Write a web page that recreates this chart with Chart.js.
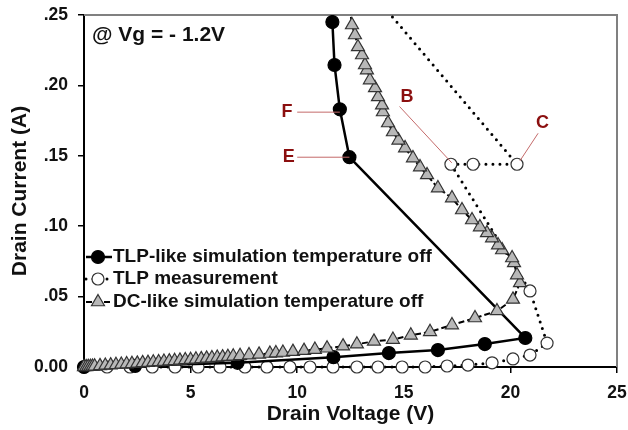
<!DOCTYPE html>
<html>
<head>
<meta charset="utf-8">
<script src="https://cdn.jsdelivr.net/npm/chart.js"></script>
<style>
  html, body { margin: 0; padding: 0; background: #fff; }
</style>
</head>
<body>
<canvas id="chart1" width="628" height="430"></canvas>
<script>
// TLP-like simulation, temperature off (black dots, solid line)
const tlpSimV = [0, 2.4, 7.2, 11.7, 14.3, 16.6, 18.8, 20.7, 12.45, 12.0, 11.75, 11.65];
const tlpSimI = [0, 0.0008, 0.003, 0.007, 0.0099, 0.012, 0.0163, 0.0206, 0.149, 0.183, 0.2145, 0.245];

// TLP measurement (open circles, dotted line)
const tlpMeasV = [0, 1.08, 2.16, 3.2, 4.27, 5.35, 6.38, 7.55, 8.58, 9.66, 10.6, 11.68, 12.8, 13.79,
  14.92, 16.0, 17.03, 18.01, 19.14, 20.12, 20.92, 21.72, 20.92, 17.21, 18.25, 20.31, 11.6];
const tlpMeasI = [0, 0, 0, 0, 0, 0, 0, 0, 0, 0, 0, 0, 0, 0,
  0, 0, 0.0007, 0.0014, 0.003, 0.0057, 0.0085, 0.017, 0.054, 0.144, 0.144, 0.144, 0.30];

// DC-like simulation, temperature off (grey triangles, dashed line)
const dcSimV = [0, 0.1, 0.2, 0.3, 0.4, 0.5, 0.75, 1.0, 1.25, 1.5, 1.75, 2.0, 2.25, 2.5, 2.75, 3.0,
  3.25, 3.5, 3.75, 4.0, 4.25, 4.5, 4.75, 5.0, 5.25, 5.5, 5.75, 6.0, 6.25, 6.5, 6.75, 7.0,
  7.32, 7.74, 8.21, 8.72, 9.0, 9.33, 9.8, 10.32, 10.83, 11.4, 12.15, 12.8, 13.6, 14.49, 15.33,
  16.23, 17.26, 18.34, 19.37, 20.12,
  20.45, 20.31, 20.17, 20.08, 19.61, 19.42, 19.14, 18.9, 18.57, 18.2, 17.73, 17.26, 16.6, 16.09,
  15.76, 15.43, 15.06, 14.75, 14.49, 14.26, 14.02, 13.98, 13.79, 13.65, 13.41, 13.27, 13.18,
  13.04, 12.85, 12.71, 12.57, 12.4];
const dcSimI = [0, 0.0001, 0.0002, 0.0003, 0.0004, 0.0005, 0.0008, 0.0011, 0.0013, 0.0016, 0.0018,
  0.0021, 0.0023, 0.0026, 0.0029, 0.0031, 0.0034, 0.0036, 0.0039, 0.0042, 0.0044, 0.0047, 0.005,
  0.0052, 0.0055, 0.0058, 0.0061, 0.0064, 0.0067, 0.007, 0.0073, 0.0076,
  0.008, 0.0085, 0.009, 0.0096, 0.0099, 0.0103, 0.0109, 0.0116, 0.0124, 0.0133, 0.0148, 0.0162,
  0.0182, 0.0195, 0.0225, 0.025, 0.0298, 0.0348, 0.0398, 0.048,
  0.0597, 0.0653, 0.0739, 0.0774, 0.0831, 0.0866, 0.0916, 0.0952, 0.0994, 0.1044, 0.1115, 0.12,
  0.1271, 0.1364, 0.142, 0.1484, 0.1555, 0.161, 0.1669, 0.1733, 0.1811, 0.186, 0.1918, 0.1982,
  0.2038, 0.2109, 0.2145, 0.2216, 0.2273, 0.2358, 0.2429, 0.262];

const seriesNames = ['TLP-like simulation temperature off', 'TLP measurement', 'DC-like simulation temperature off'];
const yTickLabels = ['0.00', '.05', '.10', '.15', '.20', '.25'];

// point labels: text, label position, leader line start/end (data units)
const callouts = [
  {text: 'F', at: [9.52, 0.181], from: [10.0, 0.181], to: [12.0, 0.181]},
  {text: 'E', at: [9.6, 0.149], from: [10.0, 0.149], to: [12.45, 0.149]},
  {text: 'B', at: [15.15, 0.192], from: [14.8, 0.185], to: [17.25, 0.145]},
  {text: 'C', at: [21.5, 0.173], from: [21.3, 0.166], to: [20.45, 0.1465]}
];

const FONT = "'Liberation Sans', Arial, sans-serif";

function pts(xs, ys) {
  return xs.map((x, i) => ({x: x, y: ys[i]}));
}

const styles = [
  {color: '#000', width: 2.5, dash: [], cap: 'butt', point: 'circle', r: 6.5, fill: '#000', stroke: '#000'},
  {color: '#000', width: 3, dash: [0, 7], cap: 'round', point: 'circle', r: 6, fill: '#fff', stroke: '#333'},
  {color: '#000', width: 2, dash: [6, 3], cap: 'butt', point: 'triangle', r: 7.5, fill: '#b8b8b8', stroke: '#333'}
];

const frame = {
  id: 'frame',
  beforeDatasetsDraw(chart) {
    const {ctx, chartArea: a} = chart;
    ctx.save();
    ctx.strokeStyle = '#808080';
    ctx.lineWidth = 2;
    ctx.beginPath();
    ctx.moveTo(a.left, a.top);
    ctx.lineTo(a.right, a.top);
    ctx.lineTo(a.right, a.bottom);
    ctx.stroke();
    ctx.restore();
  },
  afterDatasetsDraw(chart) {
    const {ctx, chartArea: a, scales} = chart;
    const x = scales.x, y = scales.y;
    ctx.save();
    // Vg annotation
    ctx.fillStyle = '#111';
    ctx.font = 'bold 21px ' + FONT;
    ctx.textBaseline = 'middle';
    ctx.textAlign = 'left';
    ctx.fillText('@ Vg = - 1.2V', a.left + 8, a.top + 20);

    // callouts
    callouts.forEach(c => {
      ctx.strokeStyle = '#c46a6a';
      ctx.lineWidth = 1;
      ctx.beginPath();
      ctx.moveTo(x.getPixelForValue(c.from[0]), y.getPixelForValue(c.from[1]));
      ctx.lineTo(x.getPixelForValue(c.to[0]), y.getPixelForValue(c.to[1]));
      ctx.stroke();
      ctx.fillStyle = '#8b0f0f';
      ctx.font = 'bold 18px ' + FONT;
      ctx.textAlign = 'center';
      ctx.fillText(c.text, x.getPixelForValue(c.at[0]), y.getPixelForValue(c.at[1]));
    });

    // legend
    const rows = [a.top + 242, a.top + 264, a.top + 287];
    seriesNames.forEach((name, i) => {
      const s = styles[i];
      const ly = rows[i];
      const x0 = a.left + 2, x1 = a.left + 28, mx = a.left + 14;
      ctx.strokeStyle = s.color;
      ctx.lineWidth = s.width;
      ctx.lineCap = s.cap;
      ctx.setLineDash(s.dash);
      ctx.beginPath();
      ctx.moveTo(x0, ly);
      ctx.lineTo(x1, ly);
      ctx.stroke();
      ctx.setLineDash([]);
      ctx.lineCap = 'butt';
      ctx.fillStyle = s.fill;
      ctx.strokeStyle = s.stroke;
      ctx.lineWidth = 1.2;
      ctx.beginPath();
      if (s.point === 'circle') {
        ctx.arc(mx, ly, s.r, 0, Math.PI * 2);
      } else {
        const r = s.r;
        ctx.moveTo(mx, ly - r);
        ctx.lineTo(mx + r * 0.866, ly + r * 0.5);
        ctx.lineTo(mx - r * 0.866, ly + r * 0.5);
        ctx.closePath();
      }
      ctx.fill();
      ctx.stroke();
      ctx.fillStyle = '#111';
      ctx.font = 'bold 19px ' + FONT;
      ctx.textAlign = 'left';
      ctx.textBaseline = 'middle';
      ctx.fillText(name, x1 + 1, ly);
    });
    ctx.restore();
  }
};

const datasets = [pts(tlpSimV, tlpSimI), pts(tlpMeasV, tlpMeasI), pts(dcSimV, dcSimI)].map((d, i) => {
  const s = styles[i];
  return {
    label: seriesNames[i],
    data: d,
    showLine: true,
    borderColor: s.color,
    borderWidth: s.width,
    borderDash: s.dash,
    borderCapStyle: s.cap,
    pointStyle: s.point,
    pointRadius: s.r,
    pointBackgroundColor: s.fill,
    pointBorderColor: s.stroke,
    pointBorderWidth: 1.2,
    tension: 0,
    order: [2, 3, 1][i],
    clip: {left: 10, top: 0, right: 0, bottom: 10}
  };
});

new Chart('chart1', {
  type: 'scatter',
  data: {datasets: datasets},
  plugins: [frame],
  options: {
    responsive: false,
    animation: false,
    events: [],
    layout: {padding: {top: 15, right: 11, left: 8, bottom: 2}},
    plugins: {legend: {display: false}, tooltip: {enabled: false}},
    scales: {
      x: {
        type: 'linear',
        min: 0, max: 25,
        afterFit: s => { s.height = 61; s.paddingLeft = 0; s.paddingRight = 0; },
        ticks: {stepSize: 5, color: '#111', padding: 10, font: {family: FONT, size: 17.5, weight: 'bold'}},
        grid: {drawOnChartArea: false, drawTicks: true, tickLength: 6, color: '#000', lineWidth: 1.5},
        border: {color: '#000', width: 2},
        title: {display: true, text: 'Drain Voltage (V)', color: '#111', padding: {top: 0, bottom: 1},
          font: {family: FONT, size: 21, weight: 'bold'}}
      },
      y: {
        type: 'linear',
        min: 0, max: 0.25,
        afterFit: s => { s.width = 76; s.paddingTop = 0; s.paddingBottom = 0; },
        ticks: {stepSize: 0.05, color: '#111', padding: 10, font: {family: FONT, size: 17.5, weight: 'bold'},
          callback: (v, idx) => yTickLabels[idx]},
        grid: {drawOnChartArea: false, drawTicks: true, tickLength: 6, color: '#000', lineWidth: 1.5},
        border: {color: '#000', width: 2},
        title: {display: true, text: 'Drain Current (A)', color: '#111', padding: {top: 0, bottom: 0},
          font: {family: FONT, size: 21, weight: 'bold'}}
      }
    }
  }
});
</script>
</body>
</html>
